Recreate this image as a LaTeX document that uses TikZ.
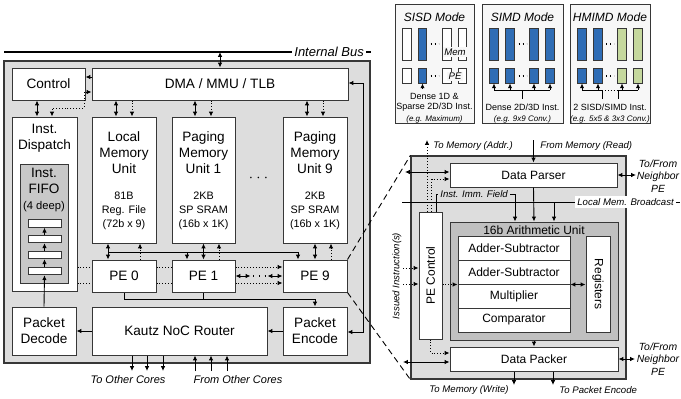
\documentclass[tikz,border=0pt]{standalone}
\usepackage{fontspec}
\setmainfont{Liberation Sans}
\usepackage{xcolor}
\definecolor{coregray}{RGB}{221,221,221}
\definecolor{fifogray}{RGB}{200,200,200}
\definecolor{alugray}{RGB}{192,192,192}
\definecolor{laneblue}{RGB}{47,109,181}
\definecolor{lanegreen}{RGB}{197,216,158}
\definecolor{edgegray}{RGB}{55,55,55}
\usepackage{tikz}
\usetikzlibrary{arrows.meta, calc, positioning}

\tikzset{
	blk/.style={draw=edgegray, fill=white, line width=0.5pt, inner sep=0pt, align=center, font=\fontsize{6.8}{8}\selectfont},
	pblk/.style={blk, font=\fontsize{6}{7}\selectfont},
	txt/.style={inner sep=0pt, align=center, font=\fontsize{6.8}{8}\selectfont},
	small/.style={inner sep=0pt, align=center, font=\fontsize{5.4}{7}\selectfont},
	lbl/.style={inner sep=1pt, align=center, font=\fontsize{5.5}{6.5}\selectfont\itshape},
	plbl/.style={inner sep=1pt, align=center, font=\fontsize{4.8}{6.2}\selectfont\itshape},
	nlbl/.style={inner sep=1pt, align=center, font=\fontsize{5.2}{6.3}\selectfont\itshape},
	mtitle/.style={inner sep=0pt, font=\fontsize{6}{7}\selectfont\itshape},
	mtxt/.style={inner sep=0pt, align=center, font=\fontsize{4.5}{5.1}\selectfont},
	eg/.style={inner sep=0pt, font=\fontsize{4}{5}\selectfont\itshape},
	lane/.style={draw=edgegray, line width=0.4pt, minimum width=4.2pt, inner sep=0pt},
	arr/.style={-{Latex[length=2.4pt,width=2.2pt]}, line width=0.45pt},
	dbl/.style={{Latex[length=2.4pt,width=2.2pt]}-{Latex[length=2.4pt,width=2.2pt]}, line width=0.45pt},
	darr/.style={arr, densely dotted},
	ddbl/.style={dbl, densely dotted},
}

\begin{document}
\begin{tikzpicture}[x=0.5pt, y=-0.5pt]
	\useasboundingbox (0,0) rectangle (681,398);

	\node[draw=edgegray, fill=coregray, line width=0.6pt, minimum width=183pt, minimum height=151pt, inner sep=0pt] (core) at (187,212) {};
	\coordinate (busL) at (4,52);
	\node[lbl, anchor=west, font=\fontsize{6.5}{7}\selectfont\itshape] (bus) at (292,52) {Internal Bus};
	\draw[line width=1.1pt] (busL) -- (bus.west);
	\draw[line width=1.1pt] (bus.east) -- +(5,0);

	\node[blk, minimum width=36.5pt, minimum height=16pt] (control) at (48.5,84) {Control};
	\node[blk, minimum width=128pt, minimum height=16pt] (dma) at (220,84) {DMA / MMU / TLB};

	\node[blk, minimum width=32.5pt, minimum height=87pt] (dispatch) at (44.5,204) {};
	\node[txt] (dispatchlbl) at (44.5,138.5) {Inst.\\Dispatch};
	\node[blk, fill=fifogray, minimum width=24pt, minimum height=59.5pt] (fifo) at (44,223.5) {};
	\node[txt] (fifolbl) at (44,190) {Inst.\\FIFO\\{\fontsize{5.6}{7}\selectfont(4 deep)}};
	\foreach \y [count=\i] in {223.5,239,255,271}
		\node[blk, minimum width=16.5pt, minimum height=3.7pt] (slot\i) at (44.5,\y) {};
	\foreach \i/\j in {2/1,3/2,4/3}
		\draw[arr] (slot\i.north) -- (slot\j.south);

	\node[blk, minimum width=32pt, minimum height=63pt] (lmu) at (124,180) {};
	\node[txt] (lmulbl) at (124,152.5) {Local\\Memory\\Unit};
	\node[small] (lmusize) at (124,211) {81B\\Reg. File\\(72b x 9)};
	\node[blk, minimum width=31.5pt, minimum height=63pt] (pmu1) at (203.5,180) {};
	\node[txt] (pmu1lbl) at (203.5,152.5) {Paging\\Memory\\Unit 1};
	\node[small] (pmu1size) at (203.5,211) {2KB\\SP SRAM\\(16b x 1K)};
	\node[blk, minimum width=32pt, minimum height=63pt] (pmu9) at (315,180) {};
	\node[txt] (pmu9lbl) at (315,152.5) {Paging\\Memory\\Unit 9};
	\node[small] (pmu9size) at (315,211) {2KB\\SP SRAM\\(16b x 1K)};
	\node[txt] (pmudots) at (258.5,178) {$\cdots$};

	\node[blk, minimum width=32pt, minimum height=16pt] (pe0) at (124,276) {PE 0};
	\node[blk, minimum width=31.5pt, minimum height=16pt] (pe1) at (203.5,276) {PE 1};
	\node[blk, minimum width=32pt, minimum height=16pt] (pe9) at (315,276) {PE 9};

	\node[blk, minimum width=32pt, minimum height=24pt] (decode) at (44,331) {Packet\\Decode};
	\node[blk, minimum width=87.5pt, minimum height=24pt] (router) at (179.5,331) {Kautz NoC Router};
	\node[blk, minimum width=32pt, minimum height=24pt] (encode) at (315,331) {Packet\\Encode};

	\draw[dbl] (dma.north) -- (dma.north |- busL);
	\draw[arr] (dma.west |- 0,77) -- (control.east |- 0,77);
	\draw[ddbl] (dma.west |- 0,92) -- (84,92) -- (84,108) -- (52,108) -- (52,0 |- dispatch.north);
	\draw[dbl] (37,0 |- control.south) -- (37,0 |- dispatch.north);
	\foreach \a/\b/\n in {116/132/lmu, 195/211/pmu1, 307/323/pmu9} {
		\draw[dbl] (\a,0 |- dma.south) -- (\a,0 |- \n.north);
		\draw[darr] (\b,0 |- dma.south) -- (\b,0 |- \n.north);
	}
	\draw[dbl] (dma.east |- 0,83) -| (363,332) -- (encode.east |- 0,332);

	\foreach \a/\b/\n/\p in {108/140/lmu/pe0, 203.5/219/pmu1/pe1, 315/331/pmu9/pe9} {
		\draw[dbl] (\a,0 |- \n.south) -- (\a,0 |- \p.north);
		\draw[darr] (\b,0 |- \p.north) -- (\b,0 |- \n.south);
	}
	\draw[line width=0.45pt] (108,252) -- (298,252);
	\draw[arr] (187,252) -- (187,0 |- pe1.north);
	\draw[arr] (298,252) -- (298,0 |- pe9.north);

	\foreach \y in {267,283} {
		\draw[densely dotted, line width=0.45pt] (dispatch.east |- 0,\y) -- (pe0.west |- 0,\y);
		\draw[densely dotted, line width=0.45pt] (pe0.east |- 0,\y) -- (pe1.west |- 0,\y);
		\draw[darr] (pe1.east |- 0,\y) -- (pe9.west |- 0,\y);
	}
	\draw[dbl] (pe1.east) -- +(15,0);
	\draw[line width=0.7pt, dash pattern=on 0.7pt off 2.2pt] (253,276) -- (265,276);
	\draw[dbl] (pe9.west) -- +(-15,0);

	\draw[line width=0.45pt] (pe0.south) |- (encode.north |- 0,299);
	\draw[line width=0.45pt] (pe1.south) -- (pe1.south |- 0,299);
	\draw[arr] (encode.north |- 0,299) -- (encode.north);

	\draw[arr] (router.west) -- (decode.east);
	\draw[arr] (encode.west) -- (router.east);
	\draw[arr] (decode.north) -- (slot4.south);

	\foreach \x in {132,147,163}
		\draw[arr] (\x,0 |- router.south) -- (\x,371);
	\foreach \x in {195,211,227}
		\draw[arr] (\x,371) -- (\x,0 |- router.south);
	\node[lbl] (tocores) at (128,380) {To Other Cores};
	\node[lbl] (fromcores) at (238,380) {From Other Cores};

	\node[draw=edgegray, fill=coregray, line width=0.6pt, minimum width=107.5pt, minimum height=111.5pt, inner sep=0pt] (pebox) at (518.5,267.5) {};
	\draw[dashed, line width=0.45pt, dash pattern=on 3pt off 2pt] (pe9.north east) -- (pebox.north west);
	\draw[dashed, line width=0.45pt, dash pattern=on 3pt off 2pt] (pe9.south east) -- (pebox.south west);

	\node[pblk, minimum width=83.5pt, minimum height=12pt] (parser) at (533.5,175) {Data Parser};
	\node[blk, fill=alugray, minimum width=84pt, minimum height=59pt] (alu) at (534,281) {};
	\node[txt, font=\fontsize{6}{7}\selectfont] (alulbl) at (534,230) {16b Arithmetic Unit};
	\node[pblk, minimum width=56pt, minimum height=12pt] (add1) at (514,248) {Adder-Subtractor};
	\node[pblk, minimum width=56pt, minimum height=12pt] (add2) at (514,272) {Adder-Subtractor};
	\node[pblk, minimum width=56pt, minimum height=12pt] (mult) at (514,296) {Multiplier};
	\node[pblk, minimum width=56pt, minimum height=12pt] (comp) at (514,320) {Comparator};
	\node[pblk, minimum width=12pt, minimum height=48pt] (regs) at (598,284) {};
	\node[txt, font=\fontsize{6}{7}\selectfont, rotate=-90] (regslbl) at (regs) {Registers};
	\node[pblk, minimum width=11.5pt, minimum height=63.5pt] (pectrl) at (430.5,275.5) {};
	\node[txt, font=\fontsize{6}{7}\selectfont, rotate=90] (pectrllbl) at (pectrl) {PE Control};
	\node[pblk, minimum width=84pt, minimum height=12pt] (packer) at (534,359) {Data Packer};

	\draw[darr] (427,0 |- pectrl.north) -- (427,140);
	\node[plbl, anchor=west] (toaddr) at (431,146) {To Memory (Addr.)};
	\draw[darr] (431.5,0 |- pectrl.north) |- (parser.west |- 0,179);
	\draw[dbl] (405,172) -- (parser.west |- 0,172);
	\node[plbl, anchor=west] (immlbl) at (438,194) {Inst. Imm. Field};
	\draw[line width=0.45pt] (436,0 |- pectrl.north) |- (immlbl.west);
	\draw[arr] (immlbl.east) -| (515,0 |- alu.north);
	\draw[arr] (parser.north |- 0,140) -- (parser.north);
	\node[plbl, anchor=west] (fromread) at (538,146) {From Memory (Read)};
	\draw[arr] (parser.south) -- (alu.north);
	\node[plbl, anchor=west, fill=white] (bcastlbl) at (575,202) {Local Mem. Broadcast};
	\draw[line width=0.45pt] (402,202) -- (bcastlbl.west);
	\draw[line width=0.45pt] (bcastlbl.east) -- +(4,0);
	\draw[arr] (554,202) -- (554,0 |- alu.north);
	\draw[dbl] (parser.east) -- (636,175);
	\node[nlbl] (nbrtop) at (658,176) {To/From\\Neighbor\\PE};

	\draw[darr] (403,268) -- (pectrl.west |- 0,268);
	\draw[darr] (403,284) -- (pectrl.west |- 0,284);
	\node[plbl, rotate=90] (issued) at (397,276) {Issued Instruction(s)};
	\draw[darr] (pectrl.east |- add2.south west) -- (add2.south west);
	\draw[dbl] (add2.south east) -- (regs.west |- add2.south east);
	\draw[arr] (alu.south) -- (packer.north);
	\draw[darr] (pectrl.south) |- (packer.west |- 0,353);
	\draw[dbl] (403,362) -- (packer.west |- 0,362);
	\draw[dbl] (packer.east) -- (635,359);
	\node[nlbl] (nbrbot) at (658,359) {To/From\\Neighbor\\PE};
	\draw[arr] (514,0 |- packer.south) -- (514,385);
	\node[plbl, anchor=east] (towrite) at (511,390) {To Memory (Write)};
	\draw[arr] (553,0 |- packer.south) -- (553,385);
	\node[plbl, anchor=west] (toenc) at (557,390) {To Packet Encode};

	\node[draw=edgegray, fill=black!3, line width=0.5pt, minimum width=39.5pt, minimum height=59.5pt, inner sep=0pt] (sisd) at (434.5,63.5) {};
	\node[draw=edgegray, fill=black!3, line width=0.5pt, minimum width=40.5pt, minimum height=59.5pt, inner sep=0pt] (simd) at (522.5,63.5) {};
	\node[draw=edgegray, fill=black!3, line width=0.5pt, minimum width=40pt, minimum height=59.5pt, inner sep=0pt] (hmimd) at (610,63.5) {};
	\node[mtitle] (sisdlbl) at (434.5,17) {SISD Mode};
	\node[mtitle] (simdlbl) at (522.5,17) {SIMD Mode};
	\node[mtitle] (hmimdlbl) at (610,17) {HMIMD Mode};

	\foreach \x/\c [count=\i] in {407/white, 422.5/laneblue, 447/white, 462.5/white} {
		\node[lane, fill=\c, minimum height=16pt] (sisdm\i) at (\x,44) {};
		\node[lane, fill=\c, minimum height=7.5pt] (sisdp\i) at (\x,75.5) {};
	}
	\foreach \x [count=\i] in {494,510,534,550} {
		\node[lane, fill=laneblue, minimum height=16pt] (simdm\i) at (\x,44) {};
		\node[lane, fill=laneblue, minimum height=7.5pt] (simdp\i) at (\x,75.5) {};
	}
	\foreach \x/\c [count=\i] in {582/laneblue, 598/laneblue, 622/lanegreen, 638/lanegreen} {
		\node[lane, fill=\c, minimum height=16pt] (hmm\i) at (\x,44) {};
		\node[lane, fill=\c, minimum height=7.5pt] (hmp\i) at (\x,75.5) {};
	}
	\foreach \x in {434.5,522.5,610} {
		\draw[line width=0.6pt, dash pattern=on 0.6pt off 1.4pt] (\x-4,44) -- (\x+4,44);
		\draw[line width=0.6pt, dash pattern=on 0.6pt off 1.4pt] (\x-4,76) -- (\x+4,76);
	}
	\node[plbl, fill=black!3, inner sep=0.6pt] (memtag) at (455,52) {Mem};
	\node[plbl, fill=black!3, inner sep=0.6pt] (petag) at (455,76) {PE};

	\draw[arr] (sisdp2.south |- 0,89) -- (sisdp2.south);
	\draw[line width=0.45pt] (simdp1.south |- 0,90) -- (simdp4.south |- 0,90);
	\draw[line width=0.45pt] (522.5,90) -- (522.5,99);
	\foreach \i in {1,...,4}
		\draw[arr] (simdp\i.south |- 0,90) -- (simdp\i.south);
	\draw[line width=0.45pt] (hmp1.south |- 0,90) -- (602,90) -- (602,99);
	\draw[line width=0.45pt] (hmp4.south |- 0,90) -- (618,90) -- (618,99);
	\draw[densely dotted, line width=0.45pt] (602,90) -- (618,90);
	\foreach \i in {1,...,4}
		\draw[arr] (hmp\i.south |- 0,90) -- (hmp\i.south);

	\node[mtxt] (sisdtxt) at (434.5,102) {Dense 1D \&\\Sparse 2D/3D Inst.};
	\node[mtxt] (simdtxt) at (522.5,107) {Dense 2D/3D Inst.};
	\node[mtxt] (hmimdtxt) at (610,107) {2 SISD/SIMD Inst.};
	\node[eg] (sisdeg) at (434.5,119) {(e.g. Maximum)};
	\node[eg] (simdeg) at (522.5,119) {(e.g. 9x9 Conv.)};
	\node[eg] (hmimdeg) at (610,119) {(e.g. 5x5 \& 3x3 Conv.)};
\end{tikzpicture}
\end{document}
